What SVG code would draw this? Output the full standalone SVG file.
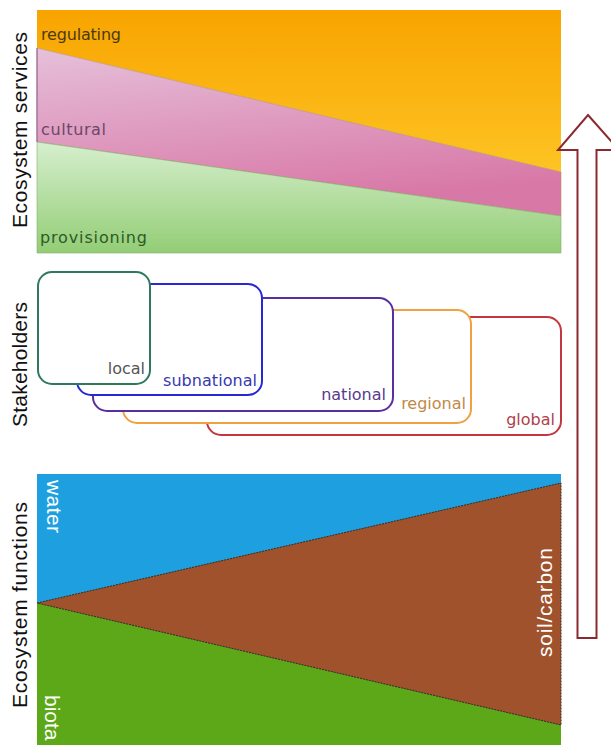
<svg xmlns="http://www.w3.org/2000/svg" width="611" height="745" viewBox="0 0 611 745">
<defs>
<linearGradient id="gOrange" x1="0" y1="0" x2="0" y2="1"><stop offset="0" stop-color="#F8A400"/><stop offset="1" stop-color="#FDC423"/></linearGradient>
<linearGradient id="gPink" x1="0" y1="0" x2="0.3" y2="1"><stop offset="0" stop-color="#E6C0DA"/><stop offset="1" stop-color="#D878A6"/></linearGradient>
<linearGradient id="gGreen" x1="0" y1="0" x2="0" y2="1"><stop offset="0" stop-color="#D6EFCE"/><stop offset="1" stop-color="#93CD75"/></linearGradient>
<style>
.axis{font-family:"Liberation Sans",Arial,sans-serif;font-size:21px;fill:#111}
.lbl{font-family:"DejaVu Sans","Liberation Sans",sans-serif;font-size:16px}
.wl{font-family:"Liberation Sans",Arial,sans-serif;font-size:21px;fill:#fff}
.box{fill:#fff;stroke-width:2}
</style>
</defs>
<rect width="611" height="745" fill="#fff"/>

<g id="axis-labels">
<text class="axis" transform="translate(27,228) rotate(-90)" textLength="196" lengthAdjust="spacing">Ecosystem services</text>
<text class="axis" transform="translate(27,427) rotate(-90)" textLength="125" lengthAdjust="spacing">Stakeholders</text>
<text class="axis" transform="translate(27,708) rotate(-90)" textLength="206" lengthAdjust="spacing">Ecosystem functions</text>
</g>

<g id="ecosystem-services">
<polygon points="37,10 561,10 561,172 37,48" fill="url(#gOrange)"/>
<polygon points="37,48 561,172 561,216 37,142" fill="url(#gPink)" stroke="#B89060" stroke-width="0.6"/>
<polygon points="37,142 561,216 561,253 37,253" fill="url(#gGreen)" stroke="#7FB070" stroke-width="0.6"/>
<line x1="37" y1="48" x2="37" y2="142" stroke="#9A6AA0" stroke-width="1.2"/>
<text class="lbl" x="41" y="40" fill="#4A3A10" textLength="80" lengthAdjust="spacing">regulating</text>
<text class="lbl" x="41" y="135" fill="#6A4868" textLength="65" lengthAdjust="spacing">cultural</text>
<text class="lbl" x="40" y="243" fill="#2E5A28" textLength="107" lengthAdjust="spacing">provisioning</text>
</g>

<g id="stakeholder-global">
<rect class="box" x="207" y="317" width="354" height="118" rx="14" stroke="#C4363E"/>
<text class="lbl" x="555" y="425" text-anchor="end" fill="#B0404C" font-size="15">global</text>
</g>
<g id="stakeholder-regional">
<rect class="box" x="123" y="310" width="348" height="113" rx="14" stroke="#F2A040"/>
<text class="lbl" x="466" y="409" text-anchor="end" fill="#C08A48" font-size="15">regional</text>
</g>
<g id="stakeholder-national">
<rect class="box" x="93" y="298" width="300" height="113" rx="14" stroke="#5A2E9E"/>
<text class="lbl" x="386" y="400" text-anchor="end" fill="#5A3A8C" font-size="15">national</text>
</g>
<g id="stakeholder-subnational">
<rect class="box" x="77" y="284" width="185" height="111" rx="14" stroke="#2828D6"/>
<text class="lbl" x="257" y="386" text-anchor="end" fill="#3838B0" font-size="15" textLength="94" lengthAdjust="spacing">subnational</text>
</g>
<g id="stakeholder-local">
<rect class="box" x="38" y="272" width="112" height="112" rx="14" stroke="#2E7A5C"/>
<text class="lbl" x="145" y="374" text-anchor="end" fill="#555" font-size="15">local</text>
</g>

<g id="ecosystem-functions">
<rect x="37" y="474" width="524" height="271" fill="#1E9FE0"/>
<polygon points="37,603 561,725 561,745 37,745" fill="#5DA818"/>
<polygon points="37,603 561,483 561,725" fill="#A0522D" stroke="#3A2A18" stroke-width="1" stroke-dasharray="2 1"/>
<text class="wl" transform="translate(47,480) rotate(90)" textLength="53" lengthAdjust="spacing">water</text>
<text class="wl" transform="translate(45,695) rotate(90)">biota</text>
<text class="wl" transform="translate(552,657) rotate(-90)" textLength="109" lengthAdjust="spacing">soil/carbon</text>
</g>

<g id="connectors">
<polygon points="588,115 619,150 596.5,150 596.5,638 577.5,638 577.5,150 558,150" fill="#fff" stroke="#8B2A2E" stroke-width="2" stroke-linejoin="miter"/>
</g>
</svg>
